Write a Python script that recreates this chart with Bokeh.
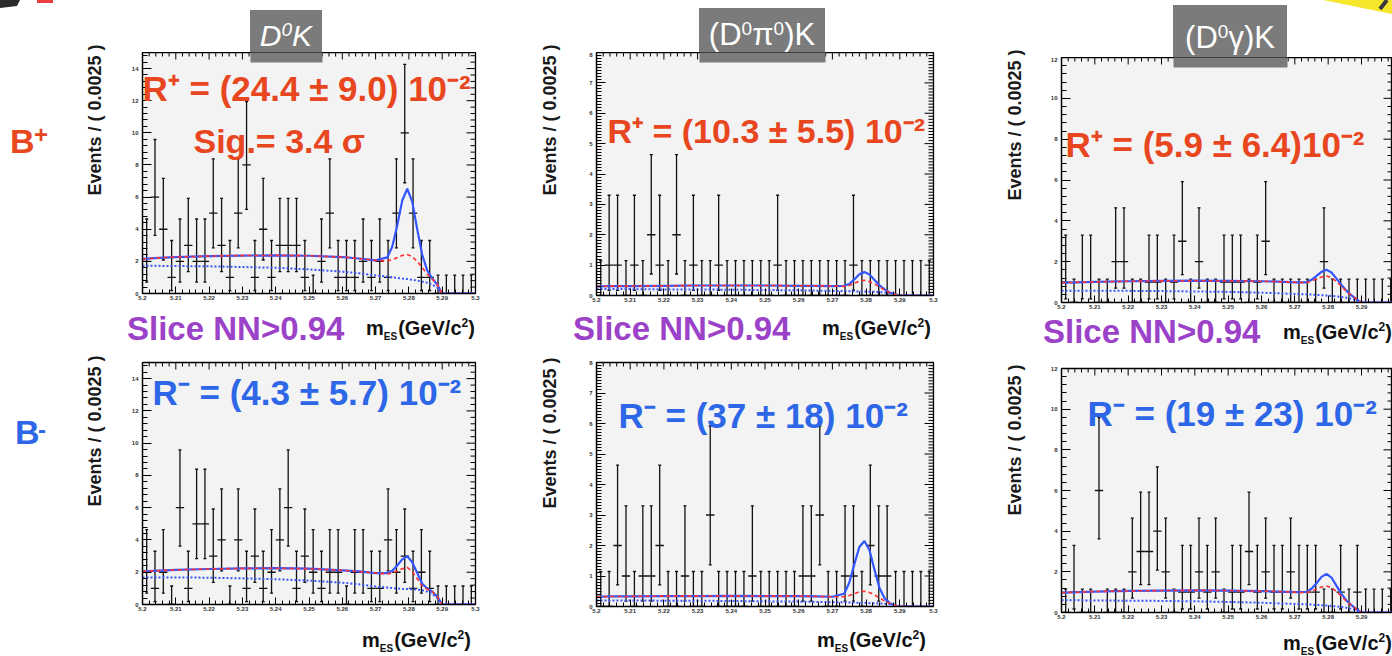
import numpy as np
from bokeh.plotting import figure
from bokeh.layouts import column, row
from bokeh.models import Label, FixedTicker, BoxAnnotation, Range1d, Div
from bokeh.embed import file_html
from bokeh.resources import INLINE

# ---------------- data ----------------
bin_lo = 5.2
bin_width = 0.0025
n_bins = 40

counts_dk_plus = [2, 6, 4, 1, 2, 3, 2, 2, 5, 3, 1, 5, 8, 1, 4, 1, 3, 3, 3, 1,
                  0, 2, 5, 1, 1, 1, 2, 1, 2, 1, 5, 10, 5, 1, 1, 0, 0, 0, 0, 0]
counts_dpi0k_plus = [0, 1, 1, 0, 1, 0, 2, 1, 0, 2, 0, 1, 0, 0, 1, 0, 0, 0, 0, 0,
                     0, 1, 0, 0, 0, 0, 0, 0, 0, 0, 1, 0, 0, 0, 0, 0, 0, 0, 0, 0]
counts_dgk_plus = [1, 0, 1, 1, 0, 0, 2, 2, 0, 0, 1, 1, 0, 1, 3, 0, 2, 0, 0, 1,
                   1, 1, 0, 1, 3, 0, 0, 0, 0, 0, 0, 2, 0, 0, 0, 0, 0, 0, 0, 0]
counts_dk_minus = [2, 1, 2, 0, 6, 1, 5, 5, 3, 4, 0, 4, 1, 3, 1, 2, 4, 6, 1, 3,
                   2, 1, 2, 2, 0, 2, 2, 1, 1, 4, 2, 3, 1, 2, 1, 0, 0, 0, 0, 0]
counts_dpi0k_minus = [0, 0, 2, 1, 0, 1, 1, 2, 0, 0, 1, 0, 0, 3, 0, 0, 0, 0, 1, 0,
                      0, 0, 0, 0, 1, 1, 3, 0, 0, 1, 1, 0, 2, 1, 1, 0, 0, 0, 0, 0]
counts_dgk_minus = [0, 1, 0, 0, 6, 0, 0, 0, 2, 3, 3, 4, 2, 0, 1, 1, 2, 1, 2, 0,
                    1, 1, 3, 1, 2, 1, 1, 2, 1, 1, 1, 0, 0, 1, 0, 1, 0, 0, 0, 0]

# asymmetric Poisson error bar ends
poisson_lo = {0: 0.0, 1: 0.173, 2: 0.708, 3: 1.367, 4: 2.086, 5: 2.841, 6: 3.620, 8: 5.232, 10: 6.892}
poisson_hi = {0: 1.148, 1: 3.300, 2: 4.638, 3: 5.918, 4: 7.163, 5: 8.382, 6: 9.584, 8: 11.944, 10: 14.267}

fit_x = [5.200, 5.205, 5.210, 5.220, 5.230, 5.240, 5.250, 5.260, 5.265, 5.270, 5.2735,
         5.2750, 5.2765, 5.2780, 5.2795, 5.2810, 5.2825, 5.2840, 5.2855, 5.2870, 5.2885,
         5.2900, 5.3000]

total_dk_plus = [2.15, 2.22, 2.27, 2.33, 2.36, 2.37, 2.35, 2.27, 2.18, 2.06, 2.25, 2.91, 4.24, 5.79, 6.52, 5.72, 4.00, 2.41, 1.43, 0.95, 0.55, 0.0, 0.0]
bkg_dk_plus = [2.15, 2.22, 2.27, 2.33, 2.36, 2.37, 2.35, 2.27, 2.18, 2.06, 2.02, 2.10, 2.24, 2.37, 2.42, 2.30, 2.00, 1.60, 1.20, 0.90, 0.55, 0.0, 0.0]
comb_dk_plus = [1.72, 1.72, 1.71, 1.69, 1.65, 1.60, 1.50, 1.36, 1.26, 1.13, 1.05, 1.00, 0.97, 0.93, 0.90, 0.86, 0.80, 0.74, 0.67, 0.55, 0.38, 0.0, 0.0]

total_dpi0k_plus = [0.30, 0.31, 0.31, 0.32, 0.33, 0.33, 0.33, 0.32, 0.32, 0.31, 0.32, 0.38, 0.53, 0.70, 0.77, 0.69, 0.51, 0.33, 0.20, 0.10, 0.04, 0.0, 0.0]
bkg_dpi0k_plus = [0.30, 0.31, 0.31, 0.32, 0.33, 0.33, 0.33, 0.32, 0.32, 0.31, 0.30, 0.33, 0.40, 0.47, 0.50, 0.46, 0.38, 0.28, 0.18, 0.10, 0.04, 0.0, 0.0]
comb_dpi0k_plus = [0.21, 0.21, 0.21, 0.20, 0.20, 0.19, 0.18, 0.17, 0.16, 0.15, 0.15, 0.14, 0.14, 0.13, 0.13, 0.12, 0.12, 0.11, 0.10, 0.08, 0.05, 0.0, 0.0]

total_dgk_plus = [0.97, 0.99, 1.01, 1.04, 1.06, 1.07, 1.06, 1.04, 1.02, 0.99, 0.99, 1.11, 1.30, 1.50, 1.60, 1.47, 1.17, 0.86, 0.57, 0.35, 0.15, 0.0, 0.0]
bkg_dgk_plus = [0.97, 0.99, 1.01, 1.04, 1.06, 1.07, 1.06, 1.04, 1.02, 0.99, 0.97, 1.05, 1.15, 1.25, 1.30, 1.22, 1.02, 0.80, 0.55, 0.35, 0.15, 0.0, 0.0]
comb_dgk_plus = [0.58, 0.58, 0.58, 0.57, 0.56, 0.54, 0.52, 0.48, 0.45, 0.42, 0.40, 0.39, 0.37, 0.36, 0.34, 0.32, 0.30, 0.27, 0.23, 0.18, 0.10, 0.0, 0.0]

total_dk_minus = [2.05, 2.10, 2.15, 2.20, 2.24, 2.25, 2.22, 2.12, 2.05, 1.95, 1.94, 2.09, 2.42, 2.80, 3.00, 2.62, 1.95, 1.29, 0.99, 0.81, 0.50, 0.0, 0.0]
bkg_dk_minus = [2.05, 2.10, 2.15, 2.20, 2.24, 2.25, 2.22, 2.12, 2.05, 1.95, 1.90, 1.95, 2.08, 2.22, 2.30, 2.05, 1.60, 1.15, 0.95, 0.80, 0.50, 0.0, 0.0]
comb_dk_minus = [1.68, 1.68, 1.68, 1.66, 1.62, 1.57, 1.48, 1.35, 1.25, 1.12, 1.05, 1.02, 0.99, 0.97, 0.96, 0.95, 0.92, 0.88, 0.80, 0.65, 0.40, 0.0, 0.0]

total_dpi0k_minus = [0.32, 0.33, 0.33, 0.34, 0.34, 0.35, 0.34, 0.34, 0.33, 0.32, 0.42, 0.78, 1.38, 1.95, 2.15, 1.85, 1.20, 0.60, 0.27, 0.11, 0.04, 0.0, 0.0]
bkg_dpi0k_minus = [0.32, 0.33, 0.33, 0.34, 0.34, 0.35, 0.34, 0.34, 0.33, 0.32, 0.32, 0.36, 0.42, 0.48, 0.50, 0.46, 0.38, 0.28, 0.18, 0.10, 0.04, 0.0, 0.0]
comb_dpi0k_minus = [0.20, 0.20, 0.20, 0.19, 0.19, 0.18, 0.17, 0.16, 0.15, 0.14, 0.14, 0.13, 0.13, 0.12, 0.12, 0.11, 0.11, 0.10, 0.09, 0.07, 0.04, 0.0, 0.0]

total_dgk_minus = [0.98, 1.00, 1.03, 1.06, 1.08, 1.09, 1.08, 1.05, 1.03, 1.00, 1.01, 1.17, 1.44, 1.75, 1.90, 1.72, 1.31, 0.92, 0.58, 0.36, 0.15, 0.0, 0.0]
bkg_dgk_minus = [0.98, 1.00, 1.03, 1.06, 1.08, 1.09, 1.08, 1.05, 1.03, 1.00, 0.98, 1.05, 1.15, 1.25, 1.30, 1.22, 1.02, 0.80, 0.55, 0.35, 0.15, 0.0, 0.0]
comb_dgk_minus = [0.60, 0.60, 0.59, 0.58, 0.57, 0.55, 0.52, 0.48, 0.45, 0.42, 0.40, 0.39, 0.37, 0.36, 0.34, 0.32, 0.30, 0.27, 0.23, 0.18, 0.10, 0.0, 0.0]

x_ticks = [5.20, 5.21, 5.22, 5.23, 5.24, 5.25, 5.26, 5.27, 5.28, 5.29, 5.30]
x_tick_labels = ["5.2", "5.21", "5.22", "5.23", "5.24", "5.25", "5.26", "5.27", "5.28", "5.29", "5.3"]

r_plus_texts = ["R\u207a = (24.4 \u00b1  9.0) 10\u207b\u00b2",
                "R\u207a = (10.3 \u00b1  5.5) 10\u207b\u00b2",
                "R\u207a = (5.9 \u00b1  6.4)10\u207b\u00b2"]
r_minus_texts = ["R\u207b = (4.3 \u00b1  5.7) 10\u207b\u00b2",
                 "R\u207b = (37 \u00b1  18) 10\u207b\u00b2",
                 "R\u207b = (19 \u00b1  23) 10\u207b\u00b2"]
sig_text = "Sig.= 3.4 \u03c3"

SUP0 = '<sup style="font-size:19px;line-height:0;vertical-align:10px">0</sup>'
title_html = ["D" + SUP0 + "K", "(D" + SUP0 + "\u03c0" + SUP0 + ")K", "(D" + SUP0 + "\u03b3)K"]
slice_html = "Slice NN&gt;0.94"
y_title = "Events / ( 0.0025 )"
mes_html = ('m<sub style="font-size:10px;line-height:0;vertical-align:-5px;margin-right:1px">ES</sub>'
            '(GeV/c<sup style="font-size:12px;line-height:0;vertical-align:8px">2</sup>)')

ORANGE = "#e8461e"
BLUE_TXT = "#2d66e6"
PURPLE = "#9b42c8"
GREYBOX = "#7b7b7b"
FONT = "Liberation Sans"
CSS_FONT = "'Liberation Sans', Arial, sans-serif"


class Geom:
    """page-pixel geometry of one plotting panel"""
    def __init__(self, ox, oy, W, H, fl, ft, fw, fh, xr, yr):
        self.ox, self.oy, self.W, self.H = ox, oy, W, H
        self.fl, self.ft, self.fw, self.fh = fl, ft, fw, fh
        self.xr, self.yr = xr, yr

    def to_data(self, X, Y):
        x = self.xr[0] + (X - (self.ox + self.fl)) / self.fw * (self.xr[1] - self.xr[0])
        y = self.yr[0] + ((self.oy + self.ft + self.fh) - Y) / self.fh * (self.yr[1] - self.yr[0])
        return x, y


def make_panel(g, counts, total, bkg, comb, y_major, y_minor):
    p = figure(width=g.W, height=g.H, title=None,
               x_range=Range1d(*g.xr), y_range=Range1d(*g.yr),
               output_backend="svg", toolbar_location=None,
               min_border_left=g.fl, min_border_right=g.W - g.fl - g.fw,
               min_border_top=g.ft, min_border_bottom=g.H - g.ft - g.fh,
               background_fill_color="#f3f3f3", border_fill_color="white",
               outline_line_color="black", outline_line_width=1.3)
    p.xgrid.visible = False
    p.ygrid.visible = False

    x_minor = [round(5.2 + 0.002 * i, 4) for i in range(51)]
    xt = FixedTicker(ticks=x_ticks, minor_ticks=x_minor)
    yt = FixedTicker(ticks=y_major, minor_ticks=y_minor)
    overrides = {t: s for t, s in zip(x_ticks, x_tick_labels)}

    for ax in p.xaxis:
        ax.ticker = xt
        ax.major_label_overrides = overrides
        ax.major_label_text_font_size = "6px"
        ax.major_label_text_font_style = "bold"
        ax.major_label_text_color = "#333333"
        ax.major_label_standoff = 2
        ax.major_tick_in = 7
        ax.major_tick_out = 0
        ax.minor_tick_in = 4
        ax.minor_tick_out = 0
        ax.axis_line_width = 1.2
    for ax in p.yaxis:
        ax.ticker = yt
        ax.major_label_text_font_size = "6px"
        ax.major_label_text_font_style = "bold"
        ax.major_label_text_color = "#333333"
        ax.major_label_standoff = 4
        ax.major_tick_in = 9
        ax.major_tick_out = 0
        ax.minor_tick_in = 5
        ax.minor_tick_out = 0
        ax.axis_line_width = 1.2

    # mirrored inward ticks on the top and right edges (ROOT style)
    x0, x1 = g.xr
    y0, y1 = g.yr
    ux = (x1 - x0) / g.fw
    uy = (y1 - y0) / g.fh
    tk = dict(line_color="black", line_width=1)
    xmin = [t for t in x_minor if t not in x_ticks and t <= x1]
    xmaj = [t for t in x_ticks if t <= x1]
    p.segment(xmaj, [y1] * len(xmaj), xmaj, [y1 - 7 * uy] * len(xmaj), **tk)
    p.segment(xmin, [y1] * len(xmin), xmin, [y1 - 4 * uy] * len(xmin), **tk)
    ymin = [t for t in y_minor if t not in y_major]
    p.segment([x1] * len(y_major), y_major, [x1 - 9 * ux] * len(y_major), y_major, **tk)
    p.segment([x1] * len(ymin), ymin, [x1 - 5 * ux] * len(ymin), ymin, **tk)

    n = np.array(counts, dtype=float)
    centers = bin_lo + bin_width * (np.arange(n_bins) + 0.5)
    lo = np.array([poisson_lo[k] for k in counts])
    hi = np.array([poisson_hi[k] for k in counts])
    cap = 0.00045
    kw = dict(line_color="#111111", line_width=1.3)
    p.segment(centers, lo, centers, hi, **kw)
    p.segment(centers - bin_width / 2, n, centers + bin_width / 2, n, **kw)
    p.segment(centers - cap, hi, centers + cap, hi, **kw)
    p.segment(centers - cap, lo, centers + cap, lo, **kw)

    p.line(fit_x, comb, line_color="#3a55ff", line_width=2, line_dash="2 2")
    p.line(fit_x, total, line_color="#3456ff", line_width=2.2)
    p.line(fit_x, bkg, line_color="#ff3030", line_width=1.6, line_dash="4 3")
    return p


def panel_txt(p, g, X, Ymid, text, size, color):
    x, y = g.to_data(X, Ymid)
    p.add_layout(Label(x=x, y=y, text=text, text_font=FONT, text_font_size=f"{size}px",
                       text_color=color, text_font_style="bold", text_align="left",
                       text_baseline="middle"))


def panel_box_part(p, g, X0, X1, Ybottom):
    x0, yb = g.to_data(X0, Ybottom)
    x1, _ = g.to_data(X1, Ybottom)
    p.add_layout(BoxAnnotation(left=x0, right=x1, bottom=yb, top=g.yr[1] + 1, fill_color=GREYBOX,
                               fill_alpha=1.0, line_color=None, level="overlay"))


# ---------------- HTML text blocks (page pixel coordinates) ----------------
def t_item(X, Ymid, html, size, color, weight="bold", style="normal", center=False):
    tr = "transform:translateX(-50%);" if center else ""
    return (f'<div style="position:absolute;left:{X}px;top:{Ymid - size / 2:.1f}px;'
            f'font-family:{CSS_FONT};font-size:{size}px;line-height:1;font-weight:{weight};'
            f'font-style:{style};color:{color};white-space:nowrap;{tr}">{html}</div>')


def rot_item(Xc, Yc, html, size, color):
    return (f'<div style="position:absolute;left:{Xc}px;top:{Yc}px;'
            f'font-family:{CSS_FONT};font-size:{size}px;line-height:1;font-weight:bold;'
            f'color:{color};white-space:nowrap;transform:translate(-50%,-50%) rotate(-90deg);">{html}</div>')


def box_item(X0, X1, Y0, Y1):
    return (f'<div style="position:absolute;left:{X0}px;top:{Y0}px;width:{X1 - X0}px;'
            f'height:{Y1 - Y0}px;background:{GREYBOX};"></div>')


def svg_item(w, h, inner):
    return f'<svg style="position:absolute;left:0;top:0" width="{w}" height="{h}">{inner}</svg>'


def text_div(X0, Y0, w, h, items):
    # items are written in page coordinates; shift them into the block
    inner = "".join(items)
    html = (f'<div style="position:relative;width:{w}px;height:{h}px;overflow:hidden;background:white;">'
            f'<div style="position:absolute;left:{-X0}px;top:{-Y0}px;width:1392px;height:656px;">{inner}</div></div>')
    return Div(text=html, width=w, height=h, margin=0, styles={"overflow": "hidden"})


def mes_item(X, Ymid):
    return t_item(X, Ymid, mes_html, 20, "#111111")


yt15 = [0, 2, 4, 6, 8, 10, 12, 14]
ym15 = [round(0.4 * i, 2) for i in range(38)]
yt8 = [0, 1, 2, 3, 4, 5, 6, 7, 8]
ym8 = [round(0.1 * i, 2) for i in range(81)]
yt12 = [0, 2, 4, 6, 8, 10, 12]
ym12 = [round(0.4 * i, 2) for i in range(31)]

g1 = Geom(110, 52, 420, 253, 32, 0, 333, 241, (5.2, 5.3), (0, 15))
g4 = Geom(110, 352, 420, 264, 32, 10, 333, 242, (5.2, 5.3), (0, 15))
g2 = Geom(570, 52, 430, 255, 26, 0, 337, 243, (5.2, 5.3), (0, 8))
g5 = Geom(570, 352, 430, 266, 26, 10, 337, 244, (5.2, 5.3), (0, 8))
g3 = Geom(1040, 57, 352, 257, 21, 0, 331, 245, (5.2, 5.2993), (0, 12))
g6 = Geom(1040, 358, 352, 266, 21, 10, 331, 244, (5.2, 5.2993), (0, 12))

p1 = make_panel(g1, counts_dk_plus, total_dk_plus, bkg_dk_plus, comb_dk_plus, yt15, ym15)
p2 = make_panel(g2, counts_dpi0k_plus, total_dpi0k_plus, bkg_dpi0k_plus, comb_dpi0k_plus, yt8, ym8)
p3 = make_panel(g3, counts_dgk_plus, total_dgk_plus, bkg_dgk_plus, comb_dgk_plus, yt12, ym12)
p4 = make_panel(g4, counts_dk_minus, total_dk_minus, bkg_dk_minus, comb_dk_minus, yt15, ym15)
p5 = make_panel(g5, counts_dpi0k_minus, total_dpi0k_minus, bkg_dpi0k_minus, comb_dpi0k_minus, yt8, ym8)
p6 = make_panel(g6, counts_dgk_minus, total_dgk_minus, bkg_dgk_minus, comb_dgk_minus, yt12, ym12)

# in-frame texts (y = middle of capitals)
panel_txt(p1, g1, 142, 87.5, r_plus_texts[0], 35, ORANGE)
panel_txt(p1, g1, 193, 140.5, sig_text, 34, ORANGE)
panel_txt(p2, g2, 607, 130.5, r_plus_texts[1], 34, ORANGE)
panel_txt(p3, g3, 1065, 143.5, r_plus_texts[2], 35, ORANGE)
panel_txt(p4, g4, 152, 391.5, r_minus_texts[0], 35, BLUE_TXT)
panel_txt(p5, g5, 618, 415, r_minus_texts[1], 35, BLUE_TXT)
panel_txt(p6, g6, 1087, 412.5, r_minus_texts[2], 35, BLUE_TXT)
panel_box_part(p1, g1, 250, 322, 62)
panel_box_part(p2, g2, 699, 825, 62)
panel_box_part(p3, g3, 1173, 1287, 67)

# column A: B+/B- labels, first y titles, corner logo remnants
dA = text_div(0, 0, 110, 656, [
    svg_item(110, 20, '<polygon points="0,0 20,0 17,6 0,8" fill="#2b2b2b"/>'
                      '<polygon points="37,0 53,0 53,3 37,3" fill="#e84040"/>'),
    t_item(10, 141, "B", 34, ORANGE),
    t_item(34, 134.5, "+", 24, ORANGE),
    t_item(15, 431.5, "B", 34, BLUE_TXT),
    t_item(38, 430, "-", 24, BLUE_TXT),
    rot_item(95, 120, y_title, 18, "#1a1a1a"),
    rot_item(95, 431, y_title, 18, "#1a1a1a"),
])

dB1 = text_div(110, 0, 420, 52, [
    box_item(250, 322, 10, 52),
    t_item(286, 36, title_html[0], 30, "white", weight="normal", style="italic", center=True),
])
dB2 = text_div(110, 305, 420, 47, [
    t_item(127, 328.5, slice_html, 33, PURPLE),
    mes_item(366, 327.5),
])
dB3 = text_div(110, 616, 420, 40, [mes_item(362, 640)])

dC = text_div(530, 0, 40, 656, [
    rot_item(550, 120, y_title, 18, "#1a1a1a"),
    rot_item(550, 433, y_title, 18, "#1a1a1a"),
])

dD1 = text_div(570, 0, 430, 52, [
    box_item(699, 825, 8, 52),
    t_item(762, 34.5, title_html[1], 31, "white", weight="normal", center=True),
])
dD2 = text_div(570, 307, 430, 45, [
    t_item(573, 328.5, slice_html, 33, PURPLE),
    mes_item(822, 327.5),
])
dD3 = text_div(570, 618, 430, 38, [mes_item(817, 640)])

dE = text_div(1000, 0, 40, 656, [
    rot_item(1015, 125, y_title, 18, "#1a1a1a"),
    rot_item(1015, 440, y_title, 18, "#1a1a1a"),
])

dF1 = text_div(1040, 0, 352, 57, [
    svg_item(1392, 57, '<polygon points="1323,0 1392,0 1392,14" fill="#f6e72c"/>'
                       '<line x1="1387" y1="0" x2="1380" y2="9" stroke="#3a3a3a" stroke-width="4"/>'),
    box_item(1173, 1287, 5, 57),
    t_item(1230, 37, title_html[2], 31, "white", weight="normal", center=True),
])
dF2 = text_div(1040, 314, 352, 44, [
    t_item(1043, 331, slice_html, 33, PURPLE),
    mes_item(1283, 332),
])
dF3 = text_div(1040, 624, 352, 32, [mes_item(1283, 643)])

layout = row(
    dA,
    column(dB1, p1, dB2, p4, dB3, spacing=0),
    dC,
    column(dD1, p2, dD2, p5, dD3, spacing=0),
    dE,
    column(dF1, p3, dF2, p6, dF3, spacing=0),
    spacing=0,
)
open("out.html", "w").write(file_html(layout, INLINE))
